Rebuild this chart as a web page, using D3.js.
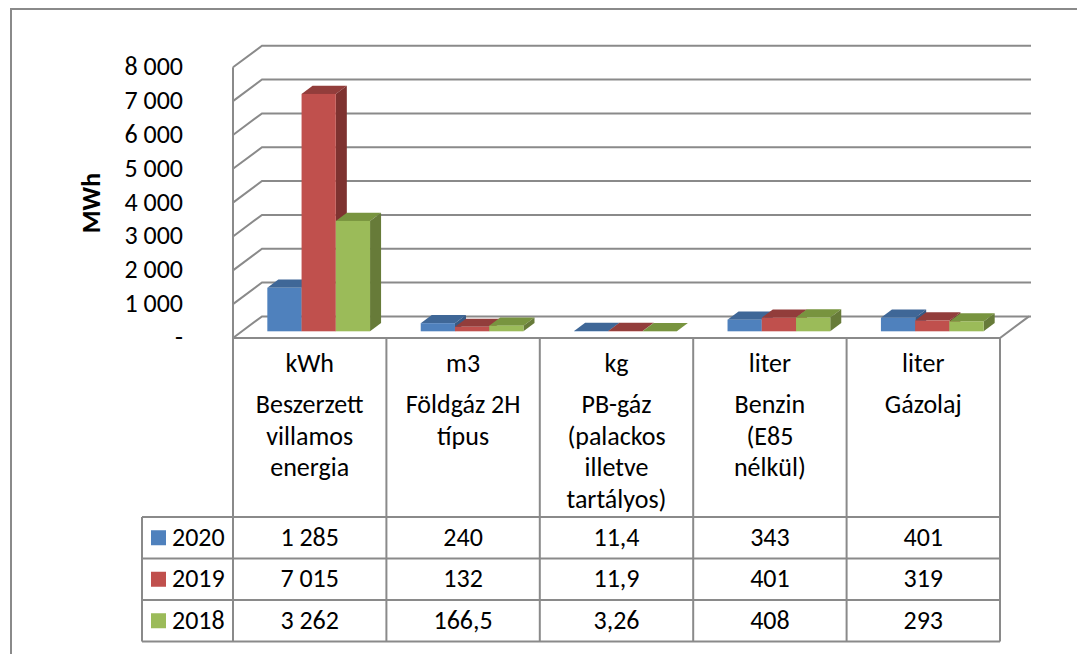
<!DOCTYPE html>
<html>
<head>
<meta charset="utf-8">
<script src="https://cdnjs.cloudflare.com/ajax/libs/d3/7.8.5/d3.min.js"></script>
<style>
  body { margin: 0; background: #fff; }
  svg text { font-family: Calibri, Carlito, "Open Sans", sans-serif; fill: #000; font-size: 26px; }
</style>
</head>
<body>
<svg></svg>
<script>
// data
var units = ['kWh', 'm3', 'kg', 'liter', 'liter'];
var categories = [
  ['Beszerzett', 'villamos', 'energia'],
  ['Földgáz 2H', 'típus'],
  ['PB-gáz', '(palackos', 'illetve', 'tartályos)'],
  ['Benzin', '(E85', 'nélkül)'],
  ['Gázolaj']
];
var years = ['2020', '2019', '2018'];
var v2020 = [1285, 240, 11.4, 343, 401];
var v2019 = [7015, 132, 11.9, 401, 319];
var v2018 = [3262, 166.5, 3.26, 408, 293];
var yTicks = [0, 1000, 2000, 3000, 4000, 5000, 6000, 7000, 8000];

var series = [v2020, v2019, v2018];
var front = ['#4F81BD', '#C0504D', '#9BBB59'];
var tops  = ['#3F6797', '#923D3B', '#78943F'];
var sides = ['#375A85', '#7E3230', '#677B39'];

var width = 1077;
var height = 654;
var svg = d3.select('svg')
            .attr('width', width)
            .attr('height', height);

var hu = d3.formatLocale({decimal: ',', thousands: ' ', grouping: [3], currency: ['', '']});
var fmt = hu.format(',');

var gridColor = '#8a8a8a';
var dx = 29, dy = -21.6;   // depth offset of back wall

var x = d3.scaleBand()
          .domain(d3.range(units.length))
          .range([233, 1000]);
var xIn = d3.scaleBand()
            .domain(d3.range(years.length))
            .range([0, x.bandwidth()])
            .paddingOuter(0.74);
var y = d3.scaleLinear()
          .domain([0, 8000])
          .range([338, 67.3]);

// outer chart border
svg.append('rect')
   .attr('x', 11).attr('y', 9)
   .attr('width', 1100).attr('height', 700)
   .attr('fill', 'none')
   .attr('stroke', gridColor)
   .attr('stroke-width', 2);

// walls + gridlines
var grid = svg.append('g').attr('stroke', gridColor).attr('stroke-width', 2).attr('fill', 'none');
grid.selectAll('path.g')
    .data(yTicks)
    .enter()
    .append('path')
    .attr('d', function(t) {
      var yy = y(t);
      return 'M' + x.range()[0] + ',' + yy + 'L' + (x.range()[0] + dx) + ',' + (yy + dy) +
             'L' + (x.range()[1] + dx + 2) + ',' + (yy + dy);
    });
grid.append('path')
    .attr('d', 'M' + x.range()[0] + ',' + y(8000) + 'V' + y(0) + 'H' + x.range()[1] +
               'L' + (x.range()[1] + dx) + ',' + (y(0) + dy));

// y axis labels
svg.append('g')
   .selectAll('text')
   .data(yTicks)
   .enter()
   .append('text')
   .attr('x', 183)
   .attr('y', function(d) { return y(d) + 8; })
   .attr('text-anchor', 'end')
   .text(function(d) { return d === 0 ? '-' : fmt(d); });

svg.append('text')
   .attr('transform', 'translate(100,203) rotate(-90)')
   .attr('text-anchor', 'middle')
   .style('font-weight', 'bold')
   .text('MWh');

// bars: front depth z0, back depth z1
var z0 = 0.31, z1 = 0.69;
var bars = svg.append('g');
units.forEach(function(u, c) {
  series.forEach(function(vals, s) {
    var xa = x(c) + xIn(s) + z0 * dx;
    var xb = xa + xIn.bandwidth();
    var yb = y(0) + z0 * dy;
    var yt = y(vals[c]) + z0 * dy;
    var ddx = (z1 - z0) * dx, ddy = (z1 - z0) * dy;
    bars.append('path')
        .attr('fill', tops[s])
        .attr('d', 'M' + xa + ',' + yt + 'L' + xb + ',' + yt + 'L' + (xb + ddx) + ',' + (yt + ddy) +
                   'L' + (xa + ddx) + ',' + (yt + ddy) + 'Z');
    bars.append('path')
        .attr('fill', sides[s])
        .attr('d', 'M' + xb + ',' + yt + 'L' + (xb + ddx) + ',' + (yt + ddy) + 'L' + (xb + ddx) + ',' + (yb + ddy) +
                   'L' + xb + ',' + yb + 'Z');
    bars.append('rect')
        .attr('fill', front[s])
        .attr('x', xa).attr('y', yt)
        .attr('width', xIn.bandwidth())
        .attr('height', yb - yt);
  });
});

// data table
var rowTop = 517, rowH = 41.5, legendLeft = 142;
var tbl = svg.append('g').attr('stroke', gridColor).attr('stroke-width', 2).attr('fill', 'none');
d3.range(units.length + 1).forEach(function(i) {
  var xx = i < units.length ? x(i) : x.range()[1];
  tbl.append('line').attr('x1', xx).attr('x2', xx).attr('y1', y(0)).attr('y2', rowTop + 3 * rowH);
});
d3.range(4).forEach(function(r) {
  tbl.append('line').attr('x1', legendLeft).attr('x2', x.range()[1])
     .attr('y1', rowTop + r * rowH).attr('y2', rowTop + r * rowH);
});
tbl.append('line').attr('x1', legendLeft).attr('x2', legendLeft).attr('y1', rowTop).attr('y2', rowTop + 3 * rowH);

var head = svg.append('g').attr('text-anchor', 'middle');
units.forEach(function(u, c) {
  var cx = x(c) + x.bandwidth() / 2;
  head.append('text').attr('x', cx).attr('y', 372).text(u);
  categories[c].forEach(function(line, k) {
    head.append('text').attr('x', cx).attr('y', 413 + k * 31.7).text(line);
  });
});

series.forEach(function(vals, s) {
  var cy = rowTop + s * rowH + rowH / 2;
  svg.append('rect')
     .attr('x', 151).attr('y', cy - 7.5)
     .attr('width', 15).attr('height', 15)
     .attr('fill', front[s]);
  svg.append('text')
     .attr('x', 172).attr('y', cy + 8)
     .text(years[s]);
  vals.forEach(function(v, c) {
    svg.append('text')
       .attr('x', x(c) + x.bandwidth() / 2)
       .attr('y', cy + 8)
       .attr('text-anchor', 'middle')
       .text(fmt(v));
  });
});
</script>
</body>
</html>
